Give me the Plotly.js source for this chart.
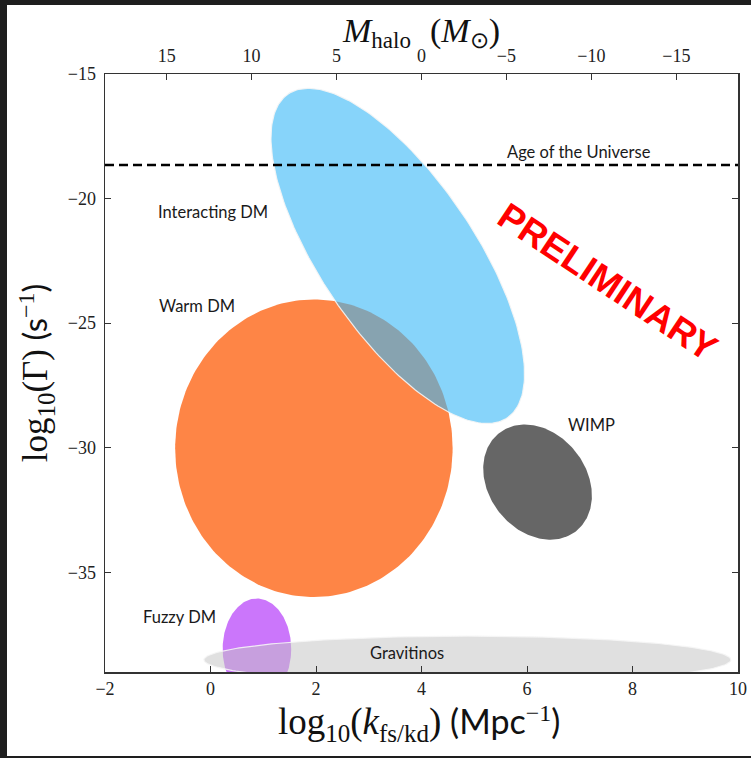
<!DOCTYPE html>
<html>
<head>
<meta charset="utf-8">
<script src="https://cdn.plot.ly/plotly-3.0.1.min.js"></script>
<style>
  html, body { margin:0; padding:0; background:#1e1e1e; width:751px; height:758px; overflow:hidden; }
  #plot { position:absolute; left:7px; top:5px; width:744px; height:751px; background:#fff; }
</style>
</head>
<body>
<div id="plot"></div>
<script>
// ---- data ----
const regions   = ['Warm DM', 'Interacting DM', 'WIMP', 'Fuzzy DM', 'Gravitinos'];
const centerLogK = [1.96, 3.55, 6.20, 0.88, 4.87];           // log10(k) of ellipse centre
const centerLogG = [-30.02, -22.30, -31.38, -38.08, -38.51]; // log10(Gamma) of ellipse centre
const widthLogK  = [5.26, 3.30, 1.99, 1.30, 9.99];           // full width (data units, before rotation)
const heightLogG = [11.94, 13.90, 4.65, 4.06, 1.90];         // full height (data units, before rotation)
const angleDeg   = [0, 15, 7.3, 0, 0];                       // rotation, degrees CCW in data space
const ageOfUniverseLogG = -18.65;
const kRange = [-2, 10];
const gammaRange = [-39, -15];
const mHaloTicks = [15, 10, 5, 0, -5, -10, -15];
const mHaloRange = [18.63, -18.63];

// ---- styles ----
const fillColors = ['#fe8546', 'rgba(55,183,247,0.6)', '#666666', '#cb76fb', 'rgba(196,196,196,0.53)'];
const edgeColors = [null, 'rgba(245,245,245,0.9)', null, null, 'rgba(245,245,245,0.9)'];

function ellipseOutline(cx, cy, w, h, angDeg) {
  const th = angDeg * Math.PI / 180, c = Math.cos(th), s = Math.sin(th);
  const xs = [], ys = [];
  const n = 240;
  for (let i = 0; i <= n; i++) {
    const t = 2 * Math.PI * i / n;
    const u = (w / 2) * Math.cos(t), v = (h / 2) * Math.sin(t);
    xs.push(cx + u * c - v * s);
    ys.push(cy + u * s + v * c);
  }
  return {xs, ys};
}

const traces = regions.map((name, i) => {
  const e = ellipseOutline(centerLogK[i], centerLogG[i], widthLogK[i], heightLogG[i], angleDeg[i]);
  return {
    type: 'scatter', mode: 'lines', name: name,
    x: e.xs, y: e.ys, fill: 'toself', fillcolor: fillColors[i],
    line: edgeColors[i] ? {color: edgeColors[i], width: 1.2} : {width: 0},
    hoverinfo: 'name', showlegend: false
  };
});
// carrier trace for the top (halo mass) axis
traces.push({type: 'scatter', mode: 'markers', x: [mHaloTicks[0]], y: [gammaRange[1]], xaxis: 'x2', yaxis: 'y',
  marker: {opacity: 0}, hoverinfo: 'skip', showlegend: false});

const serif = 'Liberation Serif, Times New Roman, serif';
const sans = 'Lato, Liberation Sans, sans-serif';
const tickFont = {family: serif, size: 18, color: '#222'};
const lineCol = '#333';

const SERIF = 'Liberation Serif';
const SANS = 'Lato';
// text run with explicit family / size and optional baseline shift (px, negative = down)
function sp(text, size, fam, shift, italic) {
  let st = 'font-family:' + fam + ';font-size:' + size + 'px';
  if (shift) st += ';baseline-shift:' + shift + 'px';
  if (italic) st += ';font-style:italic';
  return '<span style="' + st + '">' + text + '</span>';
}

const xTitle = sp('log', 37, SERIF) + sp('10', 25, SERIF, -8) + sp('(', 37, SERIF) +
  sp('k', 37, SERIF, 0, true) + sp('fs/kd', 25, SERIF, -8) + sp(')', 37, SERIF) +
  sp(' (Mpc', 34, SANS) + sp('−1', 24, SERIF, 13) + sp(')', 34, SANS);
const yTitle = sp('log', 35, SERIF) + sp('10', 25, SERIF, -8) + sp('(Γ)', 35, SERIF) +
  sp(' (s', 33, SANS) + sp('−1', 24, SERIF, 13) + sp(')', 33, SANS);
const topTitleLeft = sp('M', 34, SERIF, 0, true) + sp('halo', 23, SERIF, -6);
const topTitleRight = sp('(', 34, SERIF) + sp('M', 34, SERIF, 0, true) + sp('⊙', 23, SERIF, -6) + sp(')', 34, SERIF);

const labelFont = {family: sans, size: 16.5, color: '#1a1a1a'};
const labels = [
  {text: 'Interacting DM', x: -1.04, y: -20.55},
  {text: 'Warm DM', x: -1.01, y: -24.32},
  {text: 'WIMP', x: 6.74, y: -29.10},
  {text: 'Fuzzy DM', x: -1.32, y: -36.80},
  {text: 'Gravitinos', x: 2.98, y: -38.24},
  {text: 'Age of the Universe', x: 5.59, y: -18.12}
];

const annotations = labels.map(l => ({
  text: l.text, x: l.x, y: l.y, xref: 'x', yref: 'y', xanchor: 'left', yanchor: 'middle',
  showarrow: false, font: labelFont
}));
annotations.push({
  text: '<b>PRELIMINARY</b>', x: 7.54, y: -23.35, xref: 'x', yref: 'y',
  xanchor: 'center', yanchor: 'middle', showarrow: false, textangle: 33.5,
  font: {family: 'Liberation Sans, Arial, sans-serif', size: 37, color: '#ff0000'}
});
// top-axis (halo mass) title, in two parts around the "0" tick label
annotations.push({
  text: topTitleLeft, xref: 'paper', yref: 'paper', x: 0.4855, y: 1.0695, xanchor: 'right', yanchor: 'middle',
  showarrow: false, borderpad: 0, font: {family: serif, size: 34, color: '#111'}
});
annotations.push({
  text: topTitleRight, xref: 'paper', yref: 'paper', x: 0.5121, y: 1.0695, xanchor: 'left', yanchor: 'middle',
  showarrow: false, borderpad: 0, font: {family: serif, size: 34, color: '#111'}
});
// bottom-axis title
annotations.push({
  text: xTitle, xref: 'paper', yref: 'paper', x: 0.4963, y: -0.0865, xanchor: 'center', yanchor: 'middle',
  showarrow: false, borderpad: 0, font: {family: serif, size: 37, color: '#111'}
});

const layout = {
  width: 744, height: 751,
  margin: {l: 98, r: 13, t: 69, b: 84, pad: 0},
  paper_bgcolor: '#ffffff', plot_bgcolor: '#ffffff',
  showlegend: false,
  xaxis: {
    range: kRange, dtick: 2, tick0: -2, ticks: 'inside', ticklen: 6, tickwidth: 1, tickcolor: lineCol,
    showline: true, linecolor: lineCol, linewidth: 1.5, mirror: true, showgrid: false, zeroline: false,
    tickfont: tickFont, ticklabelstandoff: 0
  },
  xaxis2: {
    overlaying: 'x', side: 'top', anchor: 'y', range: mHaloRange, tickvals: mHaloTicks,
    ticks: 'inside', ticklen: 6, tickwidth: 1, tickcolor: lineCol,
    showline: true, linecolor: lineCol, linewidth: 1.5, showgrid: false, zeroline: false,
    tickfont: tickFont, ticklabelstandoff: 3
  },
  yaxis: {
    range: gammaRange, dtick: 5, tick0: -15, ticks: 'inside', ticklen: 6, tickwidth: 1, tickcolor: lineCol,
    showline: true, linecolor: lineCol, linewidth: 1.5, mirror: 'ticks', showgrid: false, zeroline: false,
    tickfont: tickFont, ticklabelstandoff: 4,
    title: {text: yTitle, font: {family: serif, size: 35, color: '#111'}, standoff: 9}
  },
  shapes: [{
    type: 'line', xref: 'paper', x0: 0, x1: 1, yref: 'y', y0: ageOfUniverseLogG, y1: ageOfUniverseLogG,
    line: {color: '#000', width: 2.5, dash: '9px,5px'}, layer: 'above'
  }],
  annotations: annotations
};

Plotly.newPlot('plot', traces, layout, {displayModeBar: false, staticPlot: true});
</script>
</body>
</html>
